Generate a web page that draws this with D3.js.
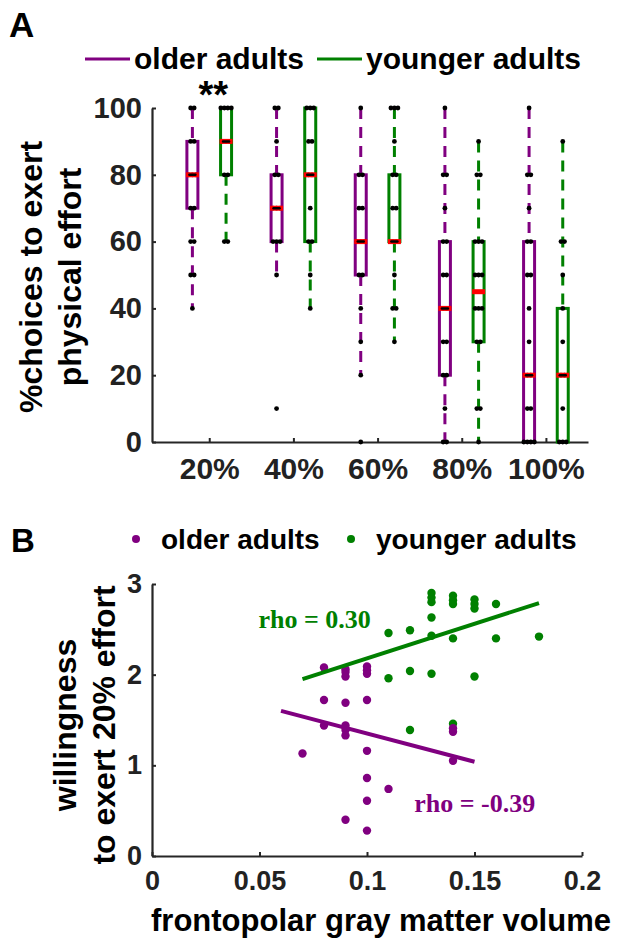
<!DOCTYPE html>
<html>
<head>
<meta charset="utf-8">
<script src="https://cdn.jsdelivr.net/npm/d3@7"></script>
<style>
  body { margin: 0; background: #fff; }
  text { font-family: "Liberation Sans", Arial, sans-serif; font-weight: bold; }
</style>
</head>
<body>
<div id="chart"></div>
<script>
// ---- panel A: boxplots ----
const effortLevels = ["20%", "40%", "60%", "80%", "100%"];
const groupNames = ["older adults", "younger adults"];

const olderMedian = [80, 70, 60, 40, 20];
const olderQ1 = [70, 60, 50, 20, 0];
const olderQ3 = [90, 80, 80, 60, 60];
const olderLow = [40, 50, 20, 0, 0];
const olderHigh = [100, 100, 100, 100, 100];

const youngerMedian = [90, 80, 60, 45, 20];
const youngerQ1 = [80, 60, 60, 30, 0];
const youngerQ3 = [100, 100, 80, 60, 40];
const youngerLow = [60, 40, 30, 0, 0];
const youngerHigh = [100, 100, 100, 90, 90];

// individual subjects (repeated values = several subjects)
const olderPoints = [
  [100, 100, 90, 90, 80, 80, 80, 70, 70, 60, 60, 50, 50, 40],
  [100, 100, 90, 80, 80, 70, 70, 70, 60, 60, 60, 50, 10],
  [100, 80, 80, 70, 70, 60, 60, 60, 50, 50, 40, 30, 20, 0],
  [100, 80, 80, 70, 60, 60, 50, 50, 40, 40, 30, 30, 20, 20, 10, 0, 0],
  [100, 80, 80, 70, 60, 60, 50, 50, 40, 30, 20, 20, 10, 10, 0, 0, 0, 0]
];
const youngerPoints = [
  [100, 100, 100, 100, 90, 90, 90, 80, 80, 60, 60],
  [100, 100, 100, 90, 90, 80, 80, 70, 60, 60, 50, 40],
  [100, 100, 100, 90, 80, 80, 70, 70, 60, 60, 50, 40, 40, 30],
  [90, 80, 80, 60, 60, 60, 50, 50, 50, 40, 40, 40, 30, 30, 10, 10, 0],
  [90, 60, 60, 50, 40, 30, 20, 20, 10, 0, 0, 0]
];

const yTicksA = [0, 20, 40, 60, 80, 100];

// ---- panel B: scatter ----
const olderVolume = [0.08, 0.09, 0.09, 0.09, 0.10, 0.10, 0.10, 0.08, 0.09, 0.10, 0.08, 0.09,
  0.09, 0.09, 0.07, 0.10, 0.14, 0.14, 0.14, 0.10, 0.11, 0.10, 0.09, 0.10];
const olderWillingness = [2.08, 2.06, 2.03, 1.98, 2.09, 2.05, 2.01, 1.72, 1.69, 1.72, 1.44, 1.44,
  1.39, 1.33, 1.13, 1.16, 1.41, 1.37, 1.05, 0.86, 0.74, 0.61, 0.40, 0.28];
const youngerVolume = [0.13, 0.13, 0.13, 0.14, 0.14, 0.14, 0.15, 0.15, 0.15, 0.16, 0.13, 0.11,
  0.12, 0.13, 0.14, 0.16, 0.18, 0.11, 0.12, 0.13, 0.15, 0.12, 0.14];
const youngerWillingness = [2.90, 2.85, 2.80, 2.87, 2.82, 2.78, 2.83, 2.78, 2.73, 2.78, 2.63, 2.46,
  2.49, 2.43, 2.40, 2.40, 2.42, 1.96, 2.04, 2.01, 1.98, 1.39, 1.46];

const olderFitX = [0.06, 0.15];
const olderFitY = [1.60, 1.04];
const youngerFitX = [0.07, 0.18];
const youngerFitY = [1.95, 2.79];
const rhoLabels = ["rho = -0.39", "rho = 0.30"];

const xTicksB = [0, 0.05, 0.1, 0.15, 0.2];
const yTicksB = [0, 1, 2, 3];

function init() {
  const width = 621, height = 938;
  const purple = "#800080", green = "#008000", axisColor = "#262626";

  const svg = d3.select("#chart")
    .append("svg")
    .attr("width", width)
    .attr("height", height);

  // ===================== Panel A =====================
  const xA = d3.scaleLinear().domain([0.32, 5.5]).range([152, 588]);
  const yA = d3.scaleLinear().domain([0, 100]).range([442, 108]);
  const gA = svg.append("g");

  svg.append("text").attr("x", 9).attr("y", 37)
    .style("font-size", "35px").text("A");

  // legend
  const legA = [
    { name: groupNames[0], color: purple, x: 85 },
    { name: groupNames[1], color: green, x: 317 }
  ];
  legA.forEach(l => {
    svg.append("line")
      .attr("x1", l.x).attr("x2", l.x + 45)
      .attr("y1", 59).attr("y2", 59)
      .attr("stroke", l.color).attr("stroke-width", 3);
    svg.append("text")
      .attr("x", l.x + 49).attr("y", 69)
      .style("font-size", "30px").attr("fill", "#000")
      .text(l.name);
  });

  // axes
  const yAxisA = gA.append("g")
    .attr("transform", "translate(152,0)")
    .call(d3.axisLeft(yA).tickValues(yTicksA).tickSizeInner(-4).tickSizeOuter(0).tickPadding(10));
  const xAxisA = gA.append("g")
    .attr("transform", "translate(0,442)")
    .call(d3.axisBottom(xA).tickValues([1, 2, 3, 4, 5])
      .tickFormat((d, i) => effortLevels[i]).tickSizeInner(-4).tickSizeOuter(0).tickPadding(18));
  [yAxisA, xAxisA].forEach(a => {
    a.select(".domain").attr("stroke", axisColor).attr("stroke-width", 2.2);
    a.selectAll(".tick line").attr("stroke", axisColor).attr("stroke-width", 2);
    a.selectAll("text").attr("fill", "#222").style("font-size", "29px")
      .style("font-family", "Liberation Sans, Arial, sans-serif");
  });
  xAxisA.selectAll("text").style("font-size", "30px").attr("dy", "0.62em");

  // y label
  const yLabA = svg.append("text")
    .attr("transform", "translate(0,277) rotate(-90)")
    .attr("text-anchor", "middle")
    .style("font-size", "32px");
  yLabA.append("tspan").attr("x", 0).attr("y", 42).text("%choices to exert");
  yLabA.append("tspan").attr("x", 0).attr("y", 81).text("physical effort");

  // boxes
  const boxSets = [
    { off: -0.2, color: purple, med: olderMedian, q1: olderQ1, q3: olderQ3, lo: olderLow, hi: olderHigh, pts: olderPoints },
    { off: 0.2, color: green, med: youngerMedian, q1: youngerQ1, q3: youngerQ3, lo: youngerLow, hi: youngerHigh, pts: youngerPoints }
  ];
  const halfW = 5.5;

  boxSets.forEach(s => {
    effortLevels.forEach((lev, i) => {
      const cx = xA(i + 1 + s.off);
      // whiskers
      if (s.hi[i] > s.q3[i]) {
        gA.append("line")
          .attr("x1", cx).attr("x2", cx)
          .attr("y1", yA(s.hi[i])).attr("y2", yA(s.q3[i]))
          .attr("stroke", s.color).attr("stroke-width", 3)
          .attr("stroke-dasharray", "11,8");
      }
      if (s.lo[i] < s.q1[i]) {
        gA.append("line")
          .attr("x1", cx).attr("x2", cx)
          .attr("y1", yA(s.q1[i])).attr("y2", yA(s.lo[i]))
          .attr("stroke", s.color).attr("stroke-width", 3)
          .attr("stroke-dasharray", "11,8");
      }
      // box
      gA.append("rect")
        .attr("x", cx - halfW).attr("width", halfW * 2)
        .attr("y", yA(s.q3[i])).attr("height", yA(s.q1[i]) - yA(s.q3[i]))
        .attr("fill", "none").attr("stroke", s.color).attr("stroke-width", 3);
    });
  });

  // individual points, duplicates placed side by side
  boxSets.forEach(s => {
    s.pts.forEach((vals, i) => {
      const cx = xA(i + 1 + s.off);
      const counts = d3.rollup(vals, v => v.length, d => d);
      const seen = new Map();
      vals.forEach(v => {
        const n = counts.get(v);
        const k = seen.get(v) || 0;
        seen.set(v, k + 1);
        gA.append("circle")
          .attr("cx", cx + (k - (n - 1) / 2) * 3.5)
          .attr("cy", yA(v))
          .attr("r", 2.4)
          .attr("fill", "#000");
      });
    });
  });

  // medians, drawn as a red band with the subjects' dots still visible on it
  boxSets.forEach(s => {
    s.med.forEach((m, i) => {
      const cx = xA(i + 1 + s.off);
      gA.append("rect")
        .attr("x", cx - halfW - 1).attr("width", halfW * 2 + 2)
        .attr("y", yA(m) - 2.5).attr("height", 5)
        .attr("fill", "#ff0000");
      gA.append("line")
        .attr("x1", cx - 3).attr("x2", cx + 3)
        .attr("y1", yA(m)).attr("y2", yA(m))
        .attr("stroke", "#000").attr("stroke-width", 2.5)
        .attr("stroke-linecap", "round")
        .attr("opacity", s.pts[i].includes(m) ? 1 : 0);
    });
  });

  // significance
  svg.append("text")
    .attr("x", xA(1) + 4).attr("y", 108)
    .attr("text-anchor", "middle")
    .style("font-size", "38px")
    .text("**");

  // ===================== Panel B =====================
  const xB = d3.scaleLinear().domain([0, 0.2]).range([152, 582]);
  const yB = d3.scaleLinear().domain([0, 3]).range([856, 584]);
  const gB = svg.append("g");

  svg.append("text").attr("x", 11).attr("y", 552)
    .style("font-size", "33px").text("B");

  const legB = [
    { name: groupNames[0], color: purple, x: 136 },
    { name: groupNames[1], color: green, x: 351 }
  ];
  legB.forEach(l => {
    svg.append("circle")
      .attr("cx", l.x).attr("cy", 539).attr("r", 4)
      .attr("fill", l.color);
    svg.append("text")
      .attr("x", l.x + 25).attr("y", 549)
      .style("font-size", "28px").attr("fill", "#000")
      .text(l.name);
  });

  const yAxisB = gB.append("g")
    .attr("transform", "translate(152,0)")
    .call(d3.axisLeft(yB).tickValues(yTicksB).tickFormat(d3.format("d"))
      .tickSizeInner(-4).tickSizeOuter(0).tickPadding(10));
  const xAxisB = gB.append("g")
    .attr("transform", "translate(0,856)")
    .call(d3.axisBottom(xB).tickValues(xTicksB).tickFormat(d => String(d))
      .tickSizeInner(-4).tickSizeOuter(0).tickPadding(17));
  [yAxisB, xAxisB].forEach(a => {
    a.select(".domain").attr("stroke", axisColor).attr("stroke-width", 2.2);
    a.selectAll(".tick line").attr("stroke", axisColor).attr("stroke-width", 2);
    a.selectAll("text").attr("fill", "#222").style("font-size", "27px")
      .style("font-family", "Liberation Sans, Arial, sans-serif");
  });
  xAxisB.selectAll("text").attr("dy", "0.62em");

  svg.append("text")
    .attr("x", 381).attr("y", 931)
    .attr("text-anchor", "middle")
    .style("font-size", "31px")
    .text("frontopolar gray matter volume");

  const yLabB = svg.append("text")
    .attr("transform", "translate(0,725) rotate(-90)")
    .attr("text-anchor", "middle")
    .style("font-size", "32px");
  yLabB.append("tspan").attr("x", 0).attr("y", 76).text("willingness");
  yLabB.append("tspan").attr("x", 0).attr("y", 115).text("to exert 20% effort");

  // dots
  youngerVolume.forEach((v, i) => {
    gB.append("circle")
      .attr("cx", xB(v)).attr("cy", yB(youngerWillingness[i]))
      .attr("r", 4.2).attr("fill", green);
  });
  olderVolume.forEach((v, i) => {
    gB.append("circle")
      .attr("cx", xB(v)).attr("cy", yB(olderWillingness[i]))
      .attr("r", 4.2).attr("fill", purple);
  });

  // fit lines
  const line = d3.line().x(d => xB(d[0])).y(d => yB(d[1]));
  gB.append("path")
    .datum(d3.zip(youngerFitX, youngerFitY))
    .attr("d", line).attr("fill", "none")
    .attr("stroke", green).attr("stroke-width", 4);
  gB.append("path")
    .datum(d3.zip(olderFitX, olderFitY))
    .attr("d", line).attr("fill", "none")
    .attr("stroke", purple).attr("stroke-width", 4);

  // correlation labels
  gB.append("text")
    .attr("x", xB(0.0495)).attr("y", yB(2.52))
    .style("font-family", "Liberation Serif, Times New Roman, serif")
    .style("font-size", "26px").attr("fill", green)
    .text(rhoLabels[1]);
  gB.append("text")
    .attr("x", xB(0.122)).attr("y", yB(0.485))
    .style("font-family", "Liberation Serif, Times New Roman, serif")
    .style("font-size", "26px").attr("fill", purple)
    .text(rhoLabels[0]);
}

window.onload = init;
</script>
</body>
</html>
